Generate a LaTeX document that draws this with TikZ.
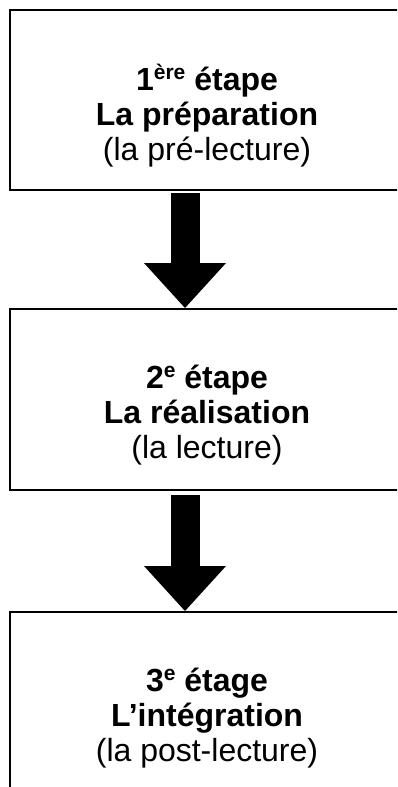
\documentclass[tikz,border=0pt]{standalone}
\usepackage{fontspec}
\setmainfont{Liberation Sans}
\usetikzlibrary{arrows.meta}

\newcommand\expo[1]{\raisebox{11pt}{\fontsize{21}{21}\selectfont\bfseries #1}}

\tikzset{
  etape/.style={draw, line width=2pt, minimum width=394pt, minimum height=181pt,
    outer sep=0pt, inner sep=0pt, anchor=north west},
  titre/.style={align=center, font=\fontsize{32}{35}\selectfont},
  fleche/.style={line width=29pt, -{Triangle[width=82pt 0 0, length=45pt 0 0, line width=0pt 0 0]}}
}

\begin{document}
\begin{tikzpicture}[x=1pt, y=-1pt]
  \path[use as bounding box, clip] (0,0) rectangle (397,787);
  % les trois cadres
  \node[etape, minimum height=180pt] (etape1) at (10,10) {};
  \node[etape] (etape2) at (10,309) {};
  \node[etape] (etape3) at (10,612) {};
  % les textes
  \node[titre] (texte1) at ([yshift=-16pt]etape1.center)
    {\textbf{1\expo{ère} étape}\\ \textbf{La préparation}\\ (la pré-lecture)};
  \node[titre] (texte2) at ([yshift=-16pt]etape2.center)
    {\textbf{2\expo{e} étape}\\ \textbf{La réalisation}\\ (la lecture)};
  \node[titre] (texte3) at ([yshift=-16pt]etape3.center)
    {\textbf{3\expo{e} étage}\\ \textbf{L’intégration}\\ (la post-lecture)};
  % les flèches
  \draw[fleche] ([xshift=-22pt,yshift=-3pt]etape1.south) -- ([xshift=-22pt,yshift=1pt]etape2.north);
  \draw[fleche] ([xshift=-22pt,yshift=-5pt]etape2.south) -- ([xshift=-22pt,yshift=1pt]etape3.north);
\end{tikzpicture}
\end{document}
